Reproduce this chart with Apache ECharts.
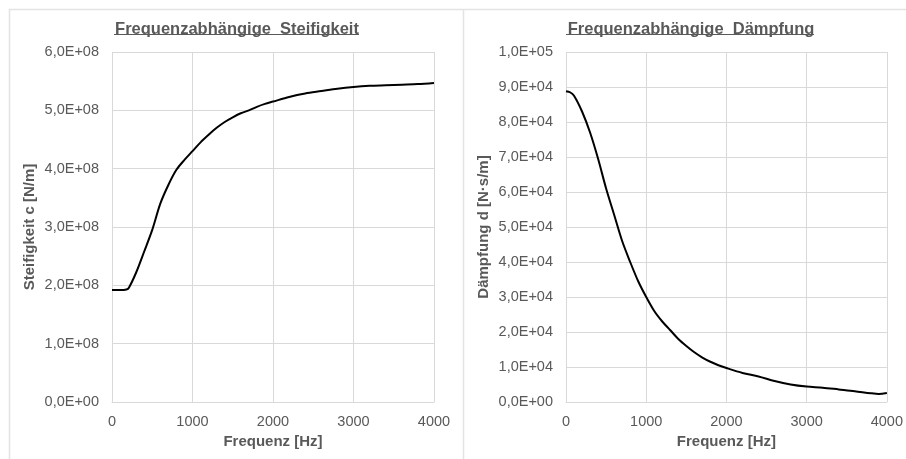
<!DOCTYPE html>
<html><head><meta charset="utf-8">
<script src="https://cdn.jsdelivr.net/npm/echarts@6/dist/echarts.min.js"></script>
<style>html,body{margin:0;padding:0;background:#fff}#c{width:906px;height:459px}</style>
</head><body><div id="c"></div>
<script>
// Stiffness curve: frequency [Hz] and stiffness [N/m]
var freqStiff = [0,100,180,210,300,400,500,600,700,800,900,1000,1100,1200,1300,1400,1500,1600,1700,1800,1900,2000,2200,2400,2600,2800,3000,3200,3400,3600,3800,4000];
var stiffness = [1.92e8,1.92e8,1.93e8,1.96e8,2.22e8,2.58e8,2.95e8,3.40e8,3.72e8,3.98e8,4.15e8,4.30e8,4.45e8,4.58e8,4.70e8,4.80e8,4.88e8,4.95e8,5.00e8,5.06e8,5.11e8,5.15e8,5.23e8,5.29e8,5.33e8,5.37e8,5.40e8,5.42e8,5.43e8,5.44e8,5.45e8,5.47e8];
// Damping curve: frequency [Hz] and damping [N·s/m]
var freqDamp = [0,50,100,200,300,400,500,600,700,800,900,1000,1100,1200,1300,1400,1500,1600,1700,1800,1900,2000,2200,2400,2600,2800,3000,3200,3400,3600,3800,3900,4000];
var damping = [8.88e4,8.85e4,8.75e4,8.30e4,7.70e4,6.95e4,6.10e4,5.35e4,4.60e4,4.00e4,3.45e4,3.00e4,2.60e4,2.30e4,2.05e4,1.80e4,1.60e4,1.42e4,1.27e4,1.15e4,1.05e4,0.97e4,0.83e4,0.73e4,0.60e4,0.50e4,0.44e4,0.41e4,0.36e4,0.31e4,0.25e4,0.23e4,0.26e4];
var titles = ['Frequenzabhängige  Steifigkeit','Frequenzabhängige  Dämpfung'];
var yNames = ['Steifigkeit c [N/m]','Dämpfung d [N·s/m]'];
var xName = 'Frequenz [Hz]';

function sci(v, exp){
  if (v === 0) return '0,0E+00';
  var e = exp;
  if (v >= Math.pow(10, exp+1) - 1e-9) e = exp+1;
  var m = v/Math.pow(10,e);
  return m.toFixed(1).replace('.',',') + 'E+' + (e<10?'0':'') + e;
}
function pairs(xs, ys){ return xs.map(function(x,i){return [x, ys[i]];}); }

var grey = '#595959';
var font = 'Liberation Sans, Arial, sans-serif';
var gridColor = '#d9d9d9';

function xAxis(idx){
  return {gridIndex: idx, type:'value', min:0, max:4000, interval:1000,
    name: xName, nameLocation:'middle', nameGap:32,
    nameTextStyle:{color:grey, fontWeight:'bold', fontSize:15, fontFamily:font},
    axisLine:{show:true, lineStyle:{color:gridColor}}, axisTick:{show:false},
    axisLabel:{color:grey, fontSize:14.5, fontFamily:font, margin:12, formatter:function(v){return String(v);}},
    splitLine:{show:true, lineStyle:{color:gridColor, width:1}}};
}
function yAxis(idx, max, interval, exp){
  return {gridIndex: idx, type:'value', min:0, max:max, interval:interval,
    name: yNames[idx], nameLocation:'middle', nameGap:75, nameRotate:90,
    nameTextStyle:{color:grey, fontWeight:'bold', fontSize:15, fontFamily:font},
    axisLine:{show:false}, axisTick:{show:false},
    axisLabel:{color:grey, fontSize:14.5, fontFamily:font, margin:13, formatter:function(v){return sci(v,exp);}},
    splitLine:{show:true, lineStyle:{color:gridColor, width:1}}};
}

var chart = echarts.init(document.getElementById('c'), null, {renderer:'canvas'});
chart.setOption({
  backgroundColor:'#fff',
  animation:false,
  title:[
    {text:titles[0], left:232, top:16, textAlign:'center', textStyle:{color:grey, fontSize:16.5, fontWeight:'bold', fontFamily:font}},
    {text:titles[1], left:686, top:16, textAlign:'center', textStyle:{color:grey, fontSize:16.5, fontWeight:'bold', fontFamily:font}}
  ],
  grid:[
    {left:112, right:472, top:52, bottom:57},
    {left:566, right:18, top:52, bottom:57}
  ],
  xAxis:[xAxis(0), xAxis(1)],
  yAxis:[yAxis(0, 6e8, 1e8, 8), yAxis(1, 1e5, 1e4, 4)],
  series:[
    {type:'line', xAxisIndex:0, yAxisIndex:0, data:pairs(freqStiff, stiffness), showSymbol:false, smooth:0.3, lineStyle:{color:'#000', width:2}},
    {type:'line', xAxisIndex:1, yAxisIndex:1, data:pairs(freqDamp, damping), showSymbol:false, smooth:0.3, lineStyle:{color:'#000', width:2}}
  ],
  graphic:[
    {type:'polyline', shape:{points:[[9.5,459],[9.5,9.5],[906,9.5]]}, style:{stroke:'#e3e3e3', lineWidth:1.5, fill:null}},
    {type:'line', shape:{x1:463.5,y1:9.5,x2:463.5,y2:459}, style:{stroke:'#e3e3e3', lineWidth:1.5}},
    {type:'line', shape:{x1:114,y1:34.5,x2:359,y2:34.5}, style:{stroke:grey, lineWidth:1}},
    {type:'line', shape:{x1:566,y1:34.5,x2:814,y2:34.5}, style:{stroke:grey, lineWidth:1}}
  ]
});
</script></body></html>
